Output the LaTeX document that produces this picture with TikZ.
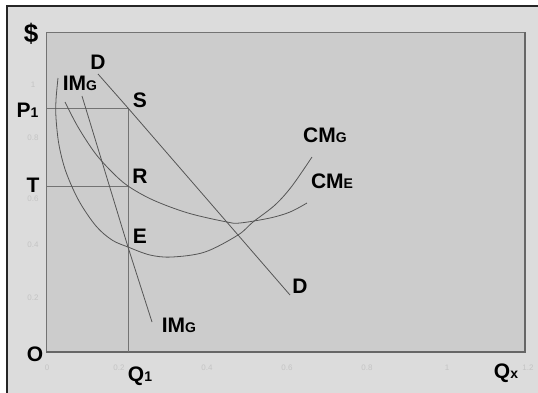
\documentclass[tikz,border=0pt]{standalone}
\usepackage{fontspec}
\setmainfont{Liberation Sans}
\definecolor{outerbg}{RGB}{220,220,220}
\definecolor{innerbg}{RGB}{204,204,204}
\definecolor{curvecol}{RGB}{85,85,85}
\definecolor{guidecol}{RGB}{115,115,115}
\definecolor{tickcol}{RGB}{196,196,196}
\newcommand\bigtxt[1]{{\fontsize{21}{21}\selectfont #1}}
\newcommand\smalltxt[1]{{\fontsize{14}{14}\selectfont #1}}
\begin{document}
\begin{tikzpicture}[x=1pt,y=-1pt,
  lbl/.style={inner sep=0pt, font=\bfseries, text=black},
  ticklbl/.style={inner sep=0pt, font=\fontsize{8}{8}\selectfont, text=tickcol},
  curveline/.style={draw=curvecol, line width=0.8pt},
  guideline/.style={draw=guidecol, line width=0.9pt}]
\useasboundingbox (0,0) rectangle (538,392);
\fill[white] (0,0) rectangle (538,392);
\fill[outerbg] (7,6) rectangle (545,400);
\draw[black!85, line width=1.6pt] (7,400) -- (7,6) -- (545,6);
% plot area
\fill[innerbg] (46,32) rectangle (525,352);
\draw[black!55, line width=0.8pt] (46,352) -- (46,32) -- (525,32);
\draw[black!60, line width=1.8pt] (525,32) -- (525,352) -- (46,352);
% faint tick labels
\node[ticklbl] (tx0) at (47,368) {0};
\node[ticklbl] (tx2) at (119,368) {0.2};
\node[ticklbl] (tx4) at (207,368) {0.4};
\node[ticklbl] (tx6) at (287,368) {0.6};
\node[ticklbl] (tx8) at (367,368) {0.8};
\node[ticklbl] (tx10) at (447,368) {1};
\node[ticklbl] (tx12) at (528,368) {1.2};
\node[ticklbl] (ty10) at (33,85) {1};
\node[ticklbl] (ty8) at (33,138) {0.8};
\node[ticklbl] (ty6) at (33,199) {0.6};
\node[ticklbl] (ty4) at (33,245) {0.4};
\node[ticklbl] (ty2) at (33,298) {0.2};
% key points
\coordinate (Yp) at (46,108);
\coordinate (Yt) at (46,186);
\coordinate (Sp) at (128,108);
\coordinate (Rp) at (128,186);
\coordinate (Ep) at (128,247);
\coordinate (Qp) at (128,352);
\coordinate (Dstart) at (98,74);
\coordinate (Dend) at (290,295);
\coordinate (IMstart) at (82,96);
\coordinate (IMend) at (152,322);
% guide lines
\draw[guideline] (Yp) -- (Sp) -- (Qp);
\draw[guideline] (Yt) -- (Rp);
% demand
\draw[curveline] (Dstart) -- (Sp) -- (Dend);
% IMG
\draw[curveline] (IMstart) -- (Ep) -- (IMend);
% CMG
\draw[curveline] plot[smooth, tension=0.55] coordinates {(58,78) (56,100) (56,118) (59,145) (66,172) (79,201) (96,226) (112,240) (128,247) (150,255) (172,257) (205,252) (238,235) (253,222) (275,205) (292,186) (312,157)};
% CME
\draw[curveline] plot[smooth, tension=0.55] coordinates {(65,102) (78,127) (95,153) (112,172) (128,186) (153,200) (188,213) (227,222) (240,223) (270,218) (290,212) (307,203)};
% labels
\node[lbl] (dollar) at (31,34) {{\fontsize{26}{26}\selectfont\$}};
\node[lbl] (Dtop) at (98,62) {\bigtxt{D}};
\node[lbl] (IMGtop) at (80,83.5) {\bigtxt{IM}\smalltxt{G}};
\node[lbl] (S) at (140,100) {\bigtxt{S}};
\node[lbl] (P1) at (27.5,110) {\bigtxt{P}\smalltxt{1}};
\node[lbl] (R) at (140,176) {\bigtxt{R}};
\node[lbl] (T) at (33,185) {\bigtxt{T}};
\node[lbl] (E) at (140,236) {\bigtxt{E}};
\node[lbl] (IMGbot) at (179,325) {\bigtxt{IM}\smalltxt{G}};
\node[lbl] (O) at (35,354) {\bigtxt{O}};
\node[lbl] (Q1) at (140,376) {\bigtxt{Q}\smalltxt{1}};
\node[lbl] (Qx) at (506,373) {\bigtxt{Q}\smalltxt{x}};
\node[lbl] (Dbot) at (300,286) {\bigtxt{D}};
\node[lbl] (CMG) at (325,135) {\bigtxt{CM}\smalltxt{G}};
\node[lbl] (CME) at (332,181) {\bigtxt{CM}\smalltxt{E}};
\end{tikzpicture}
\end{document}
